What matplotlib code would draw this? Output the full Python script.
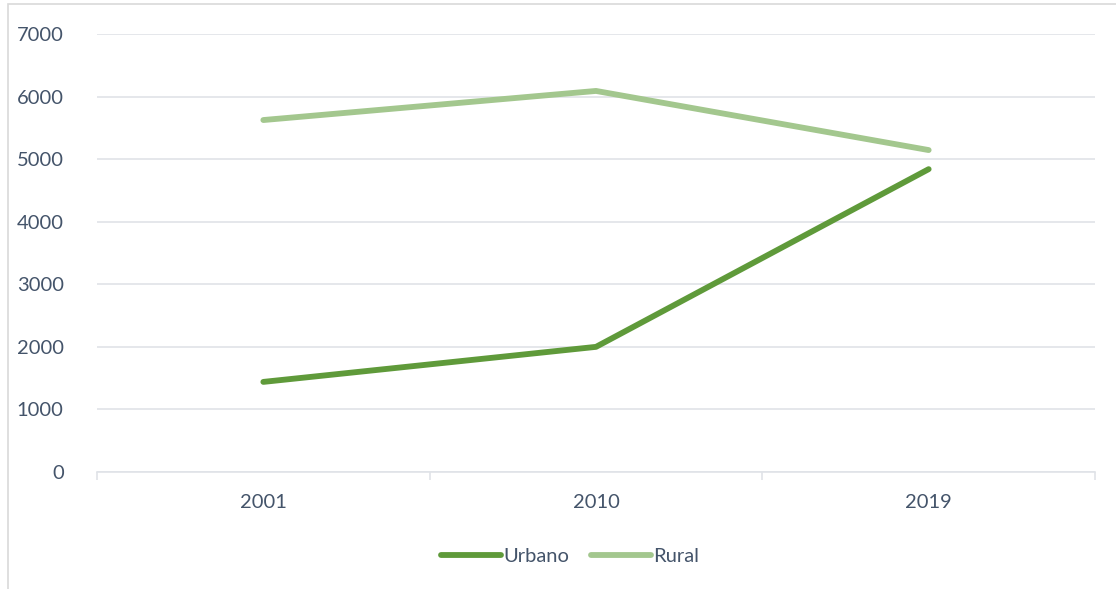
import matplotlib.pyplot as plt
from matplotlib.patches import Rectangle

years = ["2001", "2010", "2019"]
urbano = [1440, 2000, 4840]
rural = [5625, 6090, 5145]
y_ticks = [0, 1000, 2000, 3000, 4000, 5000, 6000, 7000]

text_color = "#44546a"
grid_color = "#e0e3e8"

plt.rcParams['font.family'] = ['Lato', 'DejaVu Sans']

fig = plt.figure(figsize=(11.16, 5.89), dpi=100)

# outer chart border (cut at right/bottom in the reference)
fig.patches.append(Rectangle((8 / 1116, -0.1), 1.2, 1 - 4 / 589 + 0.1,
                             transform=fig.transFigure, fill=False,
                             edgecolor="#d9d9d9", linewidth=1.2))

ax = fig.add_axes([97 / 1116, 1 - 472 / 589, (1095 - 97) / 1116, (472 - 34) / 589])

x = range(len(years))
ax.plot(x, urbano, color="#5f9a3a", linewidth=4.2, solid_capstyle="round", label="Urbano")
ax.plot(x, rural, color="#a3c78e", linewidth=4.2, solid_capstyle="round", label="Rural")

ax.set_xlim(-0.5, 2.5)
ax.set_ylim(0, 7000)
ax.set_yticks(y_ticks)
ax.set_yticklabels([str(v) for v in y_ticks])
ax.set_xticks(list(x))
ax.set_xticklabels(years)
ax.set_xticks([-0.5, 0.5, 1.5, 2.5], minor=True)

ax.grid(axis="y", color=grid_color, linewidth=1.2)
ax.set_axisbelow(True)
for s in ["top", "right", "left"]:
    ax.spines[s].set_visible(False)
ax.spines["bottom"].set_color(grid_color)
ax.spines["bottom"].set_linewidth(1.2)

ax.tick_params(axis="y", length=0, pad=24, labelsize=14.5, labelcolor=text_color)
ax.tick_params(axis="x", which="major", length=0, pad=16, labelsize=14.5, labelcolor=text_color)
ax.tick_params(axis="x", which="minor", length=6, width=1.2, color=grid_color)

leg = fig.legend(loc="center", bbox_to_anchor=(570 / 1116, 1 - 556 / 589), ncol=2,
                 frameon=False, fontsize=14.5, handlelength=3.0, handletextpad=0.1,
                 columnspacing=1.1, labelcolor=text_color)

fig.savefig("out.png", dpi=100)
